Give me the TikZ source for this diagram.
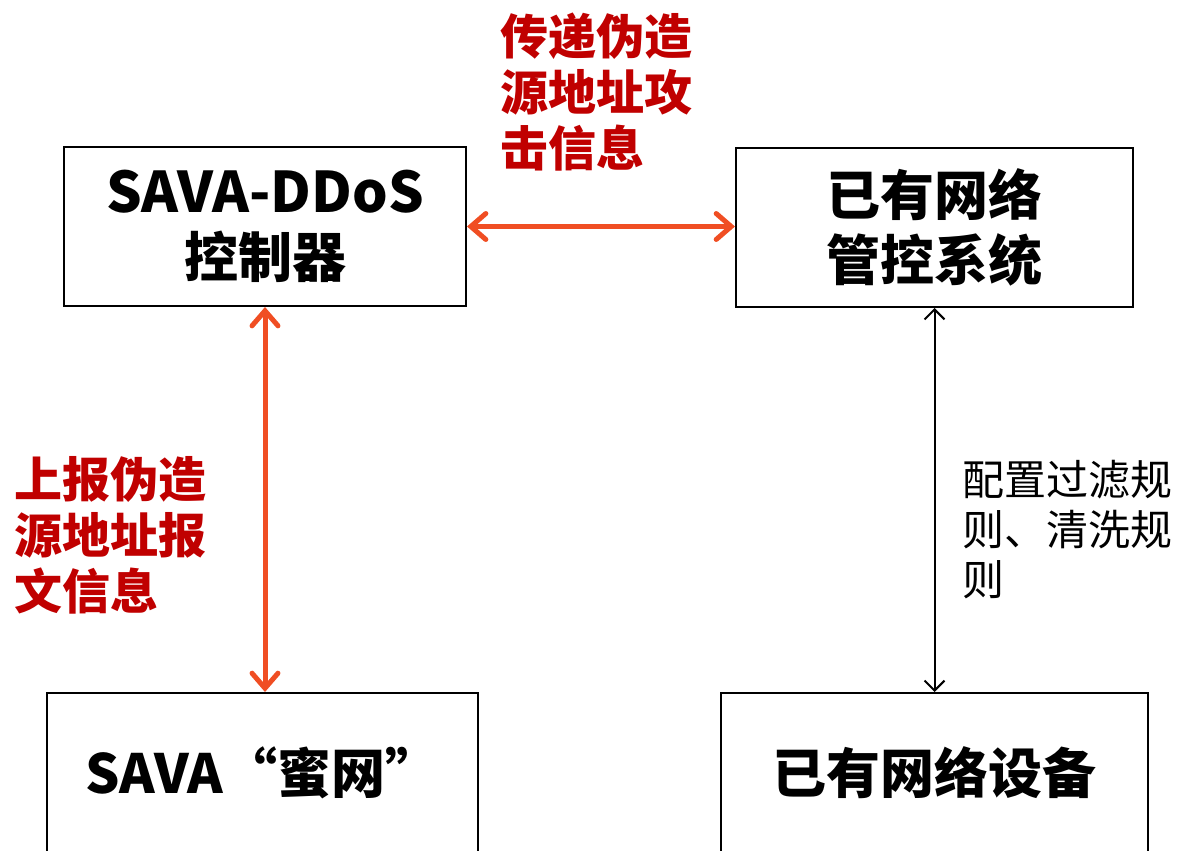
\documentclass[tikz,border=0pt]{standalone}
\usepackage{fontspec}
\setmainfont{Noto Sans CJK SC}
\usetikzlibrary{arrows.meta}
\definecolor{arrowred}{HTML}{F04E23}
\definecolor{labelred}{HTML}{C00000}
\tikzset{
  box/.style={draw=black, line width=2pt, fill=white, minimum width=#1, minimum height=159pt, inner sep=0pt, align=center, font=\bfseries\fontsize{54}{65}\selectfont},
  redarrow/.style={draw=arrowred, line width=5pt, {Straight Barb[length=15pt,width=26pt,line cap=round]}-{Straight Barb[length=15pt,width=26pt,line cap=round]}},
  blackarrow/.style={draw=black, line width=2pt, {Straight Barb[length=10pt,width=20pt]}-{Straight Barb[length=10pt,width=20pt]}},
  redlabel/.style={text=labelred, inner sep=0pt, align=left, anchor=west, font=\bfseries\fontsize{48}{56}\selectfont},
  blacklabel/.style={text=black, inner sep=0pt, align=left, anchor=west, font=\fontsize{42}{50}\selectfont},
}
\begin{document}
\begin{tikzpicture}[x=1pt,y=-1pt]
\useasboundingbox (0,0) rectangle (1179,851);
\begin{scope}
\clip (0,0) rectangle (1179,851);
\node[box=402pt] (ctrl) at (265,226.5) {\fontsize{56}{65}\selectfont SAVA-DDoS\\控制器};
\node[box=397pt] (mgmt) at (934.5,227.5) {已有网络\\管控系统};
\node[box=431pt] (honey) at (262.5,772.5) {SAVA“蜜网”};
\node[box=427pt] (dev) at (934.5,772.5) {已有网络设备};
\end{scope}
\draw[redarrow] (ctrl.east) -- (ctrl.east -| mgmt.west);
\draw[redarrow] (ctrl.south) -- (ctrl.south |- honey.north);
\draw[blackarrow] (mgmt.south) -- (mgmt.south |- dev.north);
\node[redlabel] (lab1) at (500,92) {传递伪造\\源地址攻\\击信息};
\node[redlabel] (lab2) at (14,535) {上报伪造\\源地址报\\文信息};
\node[blacklabel] (lab3) at (962,530) {配置过滤规\\则、清洗规\\则};
\end{tikzpicture}
\end{document}
